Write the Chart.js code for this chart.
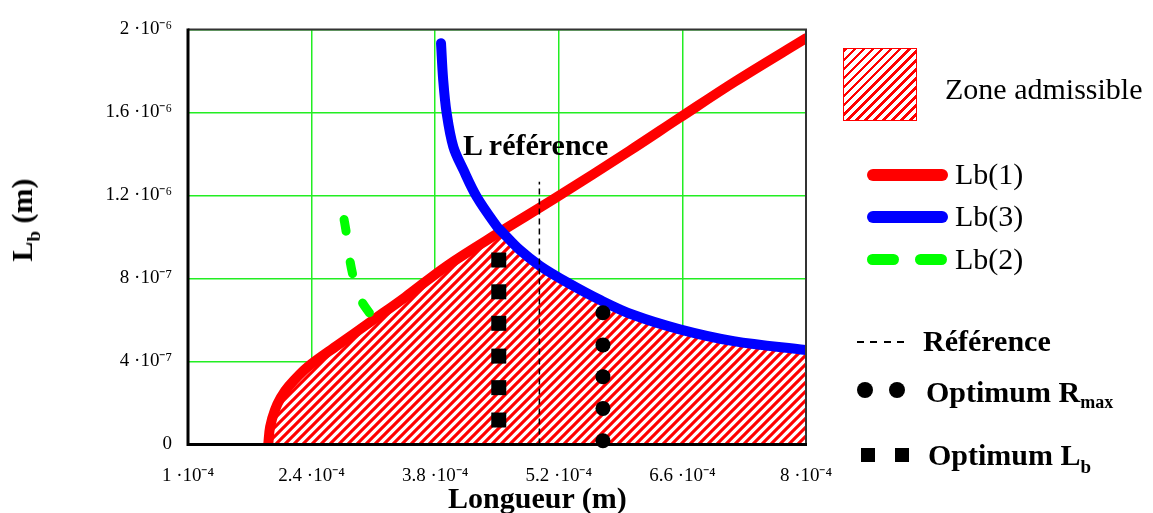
<!DOCTYPE html>
<html>
<head>
<meta charset="utf-8">
<script src="https://cdn.jsdelivr.net/npm/chart.js@4.4.1/dist/chart.umd.min.js"></script>
<style>
html,body{margin:0;padding:0;background:#fff;}
#wrap{position:relative;width:1153px;height:513px;overflow:hidden;font-family:'Liberation Serif','Times New Roman',serif;color:#000;}
#c{position:absolute;left:0;top:0;}
.t{position:absolute;white-space:nowrap;font-size:30px;line-height:30px;}
.b{font-weight:bold;}
.sub{font-size:19px;position:relative;top:8px;}
.subm{font-size:18px;position:relative;top:6px;}
.sw{position:absolute;}
</style>
</head>
<body>
<div id="wrap">
<canvas id="c" width="1153" height="513"></canvas>

<div class="t b" style="left:463px;top:130px;">L référence</div>
<div class="t b" style="left:448px;top:483px;">Longueur (m)</div>
<div class="t b" style="left:24px;top:220px;transform:translate(-50%,-50%) rotate(-90deg);">L<span class="sub">b</span> (m)</div>

<div class="sw" style="left:843px;top:48px;width:74px;height:73px;box-sizing:border-box;border:1.5px solid #ff0000;background:repeating-linear-gradient(135deg,#ff0000 0px,#ff0000 2.6px,#ffffff 2.6px,#ffffff 6.4px);"></div>
<div class="t" style="left:945px;top:74px;">Zone admissible</div>

<div class="sw" style="left:867px;top:169px;width:81px;height:12px;border-radius:6px;background:#ff0000;"></div>
<div class="t" style="left:955px;top:159px;">Lb(1)</div>
<div class="sw" style="left:867px;top:211px;width:81px;height:12px;border-radius:6px;background:#0000ff;"></div>
<div class="t" style="left:955px;top:201px;">Lb(3)</div>
<div class="sw" style="left:867px;top:254px;width:32px;height:11px;border-radius:5.5px;background:#00ff00;"></div>
<div class="sw" style="left:915px;top:254px;width:32px;height:11px;border-radius:5.5px;background:#00ff00;"></div>
<div class="t" style="left:955px;top:244px;">Lb(2)</div>

<div class="sw" style="left:857px;top:341px;width:48px;height:2px;background:repeating-linear-gradient(90deg,#000 0px,#000 7px,transparent 7px,transparent 13.4px);"></div>
<div class="t b" style="left:923px;top:326px;">Référence</div>

<div class="sw" style="left:857px;top:382px;width:16px;height:16px;border-radius:50%;background:#000;"></div>
<div class="sw" style="left:889px;top:382px;width:16px;height:16px;border-radius:50%;background:#000;"></div>
<div class="t b" style="left:926px;top:377px;">Optimum R<span class="subm">max</span></div>

<div class="sw" style="left:861px;top:448px;width:14px;height:14px;background:#000;"></div>
<div class="sw" style="left:895px;top:448px;width:14px;height:14px;background:#000;"></div>
<div class="t b" style="left:928px;top:440px;">Optimum L<span class="sub">b</span></div>
</div>

<script>
// ---- Axis ticks ----
const xTickValues = [1e-4, 2.4e-4, 3.8e-4, 5.2e-4, 6.6e-4, 8e-4];
const xTickLabels = ['1 ·10⁻⁴', '2.4 ·10⁻⁴', '3.8 ·10⁻⁴', '5.2 ·10⁻⁴', '6.6 ·10⁻⁴', '8 ·10⁻⁴'];
const yTickValues = [0, 4e-7, 8e-7, 1.2e-6, 1.6e-6, 2e-6];
const yTickLabels = ['0', '4 ·10⁻⁷', '8 ·10⁻⁷', '1.2 ·10⁻⁶', '1.6 ·10⁻⁶', '2 ·10⁻⁶'];

// ---- Lb(1) (red) ----
const lb1X = [1.909e-4, 1.93e-4, 1.985e-4, 2.05e-4, 2.14e-4, 2.36e-4, 2.70e-4, 3.08e-4, 3.46e-4, 3.93e-4, 4.52e-4, 5.17e-4, 6.0e-4, 6.57e-4, 7.2e-4, 8.0e-4];
const lb1Y = [0, 0.85e-7, 1.66e-7, 2.25e-7, 2.8e-7, 3.75e-7, 4.8e-7, 5.95e-7, 7.1e-7, 8.6e-7, 10.2e-7, 11.9e-7, 14.15e-7, 15.75e-7, 17.5e-7, 19.58e-7];

// ---- Lb(3) (blue) ----
const lb3X = [3.866e-4, 3.89e-4, 3.93e-4, 4.005e-4, 4.12e-4, 4.27e-4, 4.50e-4, 4.55e-4, 4.76e-4, 4.99e-4, 5.3e-4, 5.67e-4, 6.04e-4, 6.57e-4, 7.18e-4, 8.0e-4];
const lb3Y = [19.34e-7, 17.6e-7, 15.96e-7, 14.35e-7, 13.23e-7, 11.94e-7, 10.5e-7, 10.28e-7, 9.37e-7, 8.6e-7, 7.8e-7, 6.96e-7, 6.25e-7, 5.55e-7, 4.98e-7, 4.55e-7];

// ---- Lb(2) (green dashed) ----
const lb2X = [2.759e-4, 2.797e-4, 2.827e-4, 2.872e-4, 2.948e-4, 3.099e-4];
const lb2Y = [11.06e-7, 10.1e-7, 9.05e-7, 8.09e-7, 7.05e-7, 6.08e-7];

// ---- Reference length ----
const refX = [4.98e-4, 4.98e-4];
const refY = [0, 1.266e-6];

// ---- Optimum Lb (squares) ----
const optLbX = [4.52e-4, 4.52e-4, 4.52e-4, 4.52e-4, 4.52e-4, 4.52e-4];
const optLbY = [8.89e-7, 7.36e-7, 5.84e-7, 4.26e-7, 2.74e-7, 1.18e-7];

// ---- Optimum Rmax (circles) ----
const optRX = [5.70e-4, 5.70e-4, 5.70e-4, 5.70e-4, 5.70e-4];
const optRY = [6.35e-7, 4.80e-7, 3.27e-7, 1.74e-7, 0.18e-7];

// crossing of Lb(1) and Lb(3): admissible zone lies under both
const crossX = 4.55e-4;

const pts = (xs, ys) => xs.map((x, i) => ({x: x, y: ys[i]}));
const lb1 = pts(lb1X, lb1Y);
const lb3 = pts(lb3X, lb3Y);
const zone = lb1.filter(p => p.x < crossX).concat(lb3.filter(p => p.x >= crossX));

// hatch pattern
function makeHatch() {
  const s = 9;
  const c = document.createElement('canvas');
  c.width = s; c.height = s;
  const g = c.getContext('2d');
  g.fillStyle = '#ffffff';
  g.fillRect(0, 0, s, s);
  g.strokeStyle = '#ff0000';
  g.lineWidth = 3.1;
  g.beginPath();
  g.moveTo(-2, 2); g.lineTo(2, -2);
  g.moveTo(0, s); g.lineTo(s, 0);
  g.moveTo(s - 2, s + 2); g.lineTo(s + 2, s - 2);
  g.stroke();
  return g.createPattern(c, 'repeat');
}

const framePlugin = {
  id: 'frame',
  afterDatasetsDraw(chart) {
    const ctx = chart.ctx, a = chart.chartArea;
    ctx.save();
    ctx.strokeStyle = '#333';
    ctx.lineWidth = 2;
    ctx.beginPath();
    ctx.moveTo(a.left, a.top);
    ctx.lineTo(a.right, a.top);
    ctx.lineTo(a.right, a.bottom);
    ctx.stroke();
    ctx.strokeStyle = '#000';
    ctx.lineWidth = 3;
    ctx.beginPath();
    ctx.moveTo(a.left, a.top - 1);
    ctx.lineTo(a.left, a.bottom);
    ctx.lineTo(a.right + 1, a.bottom);
    ctx.stroke();
    ctx.restore();
  }
};

Chart.defaults.font.family = "'Liberation Serif', 'Times New Roman', serif";
Chart.defaults.color = '#000';

new Chart(document.getElementById('c').getContext('2d'), {
  type: 'scatter',
  data: {
    datasets: [
      {label: 'Zone admissible', data: zone, showLine: true, fill: 'origin', backgroundColor: makeHatch(),
       borderWidth: 0, borderColor: 'rgba(0,0,0,0)', pointRadius: 0, tension: 0.35, order: 10},
      {label: 'Lb(1)', data: lb1, showLine: true, borderColor: '#ff0000', borderWidth: 10, pointRadius: 0,
       tension: 0.35, borderCapStyle: 'round', borderJoinStyle: 'round', order: 6},
      {label: 'Lb(3)', data: lb3, showLine: true, borderColor: '#0000ff', borderWidth: 10, pointRadius: 0,
       tension: 0.35, borderCapStyle: 'round', borderJoinStyle: 'round', order: 5},
      {label: 'Lb(2)', data: pts(lb2X, lb2Y), showLine: true, borderColor: '#00ff00', borderWidth: 9, pointRadius: 0,
       tension: 0.35, borderCapStyle: 'round', borderDash: [12, 31], borderDashOffset: -4.5, order: 4},
      {label: 'Référence', data: pts(refX, refY), showLine: true, borderColor: '#000', borderWidth: 1.5,
       borderDash: [6, 4], pointRadius: 0, order: 3},
      {label: 'Optimum Lb', data: pts(optLbX, optLbY), showLine: false, pointStyle: 'rect', pointRadius: 10.6,
       backgroundColor: '#000', borderWidth: 0, order: 2, clip: false},
      {label: 'Optimum Rmax', data: pts(optRX, optRY), showLine: false, pointStyle: 'circle', pointRadius: 7.5,
       backgroundColor: '#000', borderWidth: 0, order: 1, clip: false}
    ]
  },
  options: {
    responsive: false,
    animation: false,
    events: [],
    layout: {padding: {left: 0, top: 29.5, right: 347, bottom: 0}},
    plugins: {legend: {display: false}, tooltip: {enabled: false}},
    scales: {
      x: {
        type: 'linear', min: 1e-4, max: 8e-4,
        afterBuildTicks: s => { s.ticks = xTickValues.map(v => ({value: v})); },
        afterFit: s => { s.height = 68.5; },
        ticks: {callback: (v, i) => xTickLabels[i], font: {size: 19}, color: '#000', padding: 20,
                maxRotation: 0, autoSkip: false},
        grid: {color: '#22ee22', lineWidth: 1.5, drawTicks: false},
        border: {display: false}
      },
      y: {
        type: 'linear', min: 0, max: 2e-6,
        afterBuildTicks: s => { s.ticks = yTickValues.map(v => ({value: v})); },
        afterFit: s => { s.width = 188; },
        ticks: {callback: (v, i) => yTickLabels[i], font: {size: 19}, color: '#000', padding: 16, autoSkip: false},
        grid: {color: '#22ee22', lineWidth: 1.5, drawTicks: false},
        border: {display: false}
      }
    }
  },
  plugins: [framePlugin]
});
</script>
</body>
</html>
